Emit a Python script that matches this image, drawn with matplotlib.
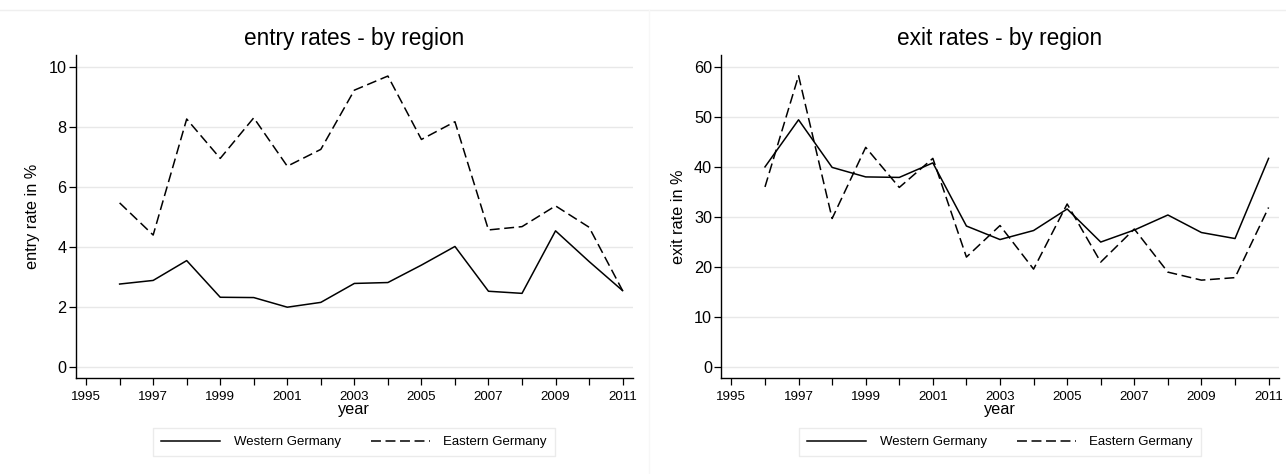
import matplotlib
matplotlib.use("Agg")
import matplotlib.pyplot as plt
from matplotlib.lines import Line2D

plt.rcParams['font.family'] = ['Liberation Sans', 'DejaVu Sans']

years = list(range(1996, 2012))

entry_west = [2.77, 2.89, 3.55, 2.33, 2.32, 2.00, 2.16, 2.79, 2.82, 3.40, 4.02, 2.53, 2.46, 4.54, 3.52, 2.55]
entry_east = [5.47, 4.40, 8.26, 6.95, 8.30, 6.69, 7.25, 9.22, 9.69, 7.58, 8.17, 4.57, 4.68, 5.37, 4.66, 2.55]

exit_west = [40.0, 49.4, 39.9, 38.0, 37.9, 40.8, 28.2, 25.5, 27.3, 31.6, 25.0, 27.4, 30.4, 26.9, 25.7, 41.7]
exit_east = [36.0, 58.2, 29.7, 43.9, 35.9, 41.7, 22.0, 28.3, 19.6, 32.6, 21.0, 27.6, 19.0, 17.4, 17.9, 31.9]

major_years = list(range(1995, 2012, 2))
minor_years = list(range(1996, 2012, 2))

W, H = 1286, 474
fig = plt.figure(figsize=(W / 100, H / 100), dpi=100)
fig.patch.set_facecolor('white')

DASH = (0, (6.5, 3.0))


def px_axes(left, top, right, bottom):
    return fig.add_axes([left / W, 1 - bottom / H, (right - left) / W, (bottom - top) / H])


def style_panel(ax, title, ylabel, yticks, ylim):
    ax.set_xlim(1994.69, 2011.31)
    ax.set_ylim(*ylim)
    ax.set_xticks(major_years)
    ax.set_xticks(minor_years, minor=True)
    ax.set_xticklabels([str(y) for y in major_years], fontsize=9.6)
    ax.set_yticks(yticks)
    ax.set_yticklabels([str(v) for v in yticks], fontsize=11.7)
    ax.tick_params(axis='both', which='both', direction='out', length=5, width=0.9,
                   color='black')
    ax.tick_params(axis='x', which='major', pad=4.5)
    ax.tick_params(axis='y', pad=1.5)
    for s in ('top', 'right'):
        ax.spines[s].set_visible(False)
    for s in ('left', 'bottom'):
        ax.spines[s].set_linewidth(1.0)
        ax.spines[s].set_color('black')
    ax.grid(axis='y', which='major', color='#e8e8e8', linewidth=1.0)
    ax.set_axisbelow(True)
    ax.set_title(title, fontsize=16.3, pad=7)
    ax.set_ylabel(ylabel, fontsize=11.7, labelpad=6)
    ax.set_xlabel('year', fontsize=11.7, labelpad=-1)


ax1 = px_axes(75.7, 55, 633, 377.7)
ax1.plot(years, entry_west, color='black', lw=1.1, label='Western Germany')
ax1.plot(years, entry_east, color='black', lw=1.1, linestyle=DASH, label='Eastern Germany')
style_panel(ax1, 'entry rates - by region', 'entry rate in %', [0, 2, 4, 6, 8, 10], (-0.346, 10.39))

ax2 = px_axes(721, 55, 1279, 377.7)
ax2.plot(years, exit_west, color='black', lw=1.1, label='Western Germany')
ax2.plot(years, exit_east, color='black', lw=1.1, linestyle=DASH, label='Eastern Germany')
style_panel(ax2, 'exit rates - by region', 'exit rate in %', [0, 10, 20, 30, 40, 50, 60], (-2.07, 62.33))

for ax, cx in ((ax1, 354 / W), (ax2, 1000 / W)):
    leg = fig.legend(*ax.get_legend_handles_labels(), loc='center',
                     bbox_to_anchor=(cx, 1 - 442.2 / H), ncol=2, fontsize=9.5,
                     frameon=True, fancybox=False, handlelength=4.5,
                     columnspacing=2.3, handletextpad=1.0, borderpad=0.6,
                     borderaxespad=0)
    leg.get_frame().set_edgecolor('#e6e6e6')
    leg.get_frame().set_linewidth(1.0)

# faint outer frame lines of the combined graph
fig.add_artist(Line2D([0.0, 1.0], [1 - 10 / H, 1 - 10 / H], color='#efefef', lw=1.0,
                      transform=fig.transFigure))
fig.add_artist(Line2D([649 / W, 649 / W], [0.0, 1 - 10 / H], color='#f7f7f7', lw=1.0,
                      transform=fig.transFigure))

fig.savefig('out.png', dpi=100, facecolor='white')
